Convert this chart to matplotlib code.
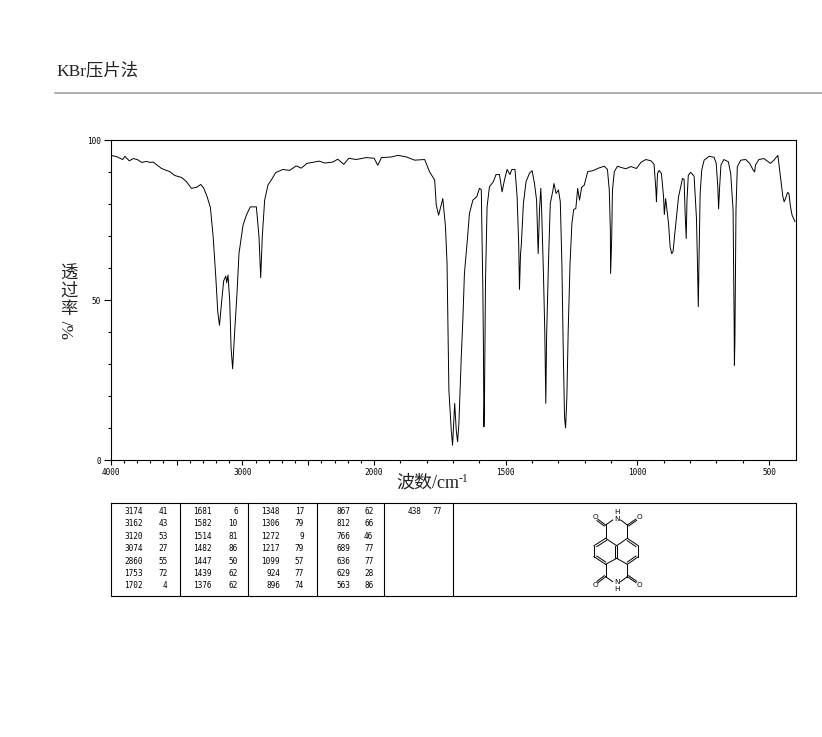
import numpy as np
import matplotlib
matplotlib.use('Agg')
import matplotlib.pyplot as plt

# espectro (numero de onda, transmitancia)
wavenumber = [4000, 3955, 3909, 3892, 3859, 3828, 3798, 3765, 3727, 3702, 3677, 3614, 3551, 3513, 3462, 3425,
              3387, 3349, 3316, 3293, 3268, 3243, 3222, 3202, 3187, 3174, 3159, 3142, 3126, 3119, 3109, 3096,
              3086, 3074, 3058, 3041, 3026, 2995, 2970, 2940, 2894, 2874, 2861, 2849, 2831, 2806, 2773, 2748,
              2692, 2642, 2591, 2553, 2510, 2414, 2377, 2313, 2276, 2230, 2192, 2137, 2061, 2000, 1986, 1972,
              1934, 1909, 1877, 1846, 1808, 1789, 1770, 1764, 1755, 1739, 1729, 1723, 1720, 1716, 1707, 1702,
              1698, 1694, 1688, 1683, 1678, 1669, 1663, 1657, 1646, 1638, 1625, 1610, 1600, 1593, 1587, 1585,
              1583, 1581, 1577, 1571, 1562, 1547, 1537, 1524, 1514, 1505, 1495, 1484, 1477, 1465, 1457, 1451,
              1448, 1444, 1441, 1433, 1423, 1410, 1400, 1391, 1383, 1380, 1377, 1372, 1367, 1364, 1357, 1352,
              1348, 1345, 1338, 1331, 1322, 1317, 1309, 1300, 1293, 1287, 1282, 1277, 1273, 1268, 1263, 1256,
              1249, 1242, 1234, 1227, 1220, 1212, 1202, 1189, 1170, 1145, 1126, 1114, 1107, 1103, 1102, 1098,
              1095, 1088, 1076, 1057, 1044, 1025, 1004, 987, 968, 949, 937, 930, 928, 924, 918, 909,
              901, 898, 893, 882, 876, 870, 865, 857, 844, 836, 829, 823, 819, 815, 812, 807,
              798, 785, 776, 773, 769, 766, 762, 756, 747, 728, 709, 701, 695, 692, 688, 683,
              672, 655, 646, 637, 633, 632, 630, 626, 621, 608, 589, 574, 562, 555, 552, 539,
              520, 495, 482, 467, 457, 448, 443, 438, 430, 425, 419, 413, 402]
transmittance = [95.2, 94.8, 93.9, 94.9, 93.5, 94.2, 93.9, 93.0, 93.3, 93.0, 93.1, 91.1, 90.1, 88.9, 88.3, 87.0,
                 84.9, 85.2, 86.1, 84.9, 82.3, 78.9, 69.8, 57.2, 46.3, 42.1, 48.9, 56.0, 57.5, 55.4, 57.8, 49.4,
                 35.0, 28.5, 40.6, 52.0, 64.5, 73.4, 76.5, 79.1, 79.1, 69.8, 57.0, 69.8, 81.2, 85.9, 88.0, 89.8,
                 90.8, 90.5, 91.9, 91.2, 92.7, 93.4, 92.8, 93.1, 94.0, 92.4, 94.3, 93.9, 94.5, 94.3, 92.1, 94.5,
                 94.7, 95.2, 94.7, 93.7, 93.9, 90.0, 87.5, 79.7, 76.5, 81.7, 72.9, 61.4, 43.7, 21.8, 9.3, 4.6,
                 11.4, 17.7, 9.3, 5.7, 11.4, 32.2, 43.7, 58.3, 68.7, 77.0, 81.2, 82.3, 84.9, 84.5, 53.0, 36.4,
                 10.4, 17.7, 56.0, 79.1, 85.4, 87.0, 89.2, 89.2, 83.8, 87.5, 90.8, 89.2, 90.8, 90.8, 82.3, 67.7,
                 53.3, 64.5, 67.2, 80.2, 87.0, 89.6, 90.4, 86.4, 81.2, 72.9, 64.5, 78.1, 84.9, 78.6, 58.3, 40.6,
                 17.7, 38.5, 61.4, 80.2, 83.8, 86.4, 83.3, 84.4, 80.7, 61.4, 35.4, 13.5, 10.0, 19.7, 40.6, 61.4,
                 73.9, 78.3, 78.6, 84.9, 81.2, 85.2, 85.9, 90.1, 90.4, 91.3, 91.8, 90.8, 84.3, 71.8, 58.3, 68.7,
                 84.3, 90.1, 91.8, 91.3, 91.0, 91.7, 91.1, 93.0, 93.9, 93.5, 92.4, 84.3, 80.7, 89.5, 90.5, 89.5,
                 82.3, 76.7, 81.7, 73.9, 66.6, 64.5, 65.1, 71.8, 82.3, 85.4, 88.0, 87.7, 77.0, 69.2, 81.2, 89.0,
                 89.9, 88.7, 75.5, 64.5, 47.9, 64.5, 83.3, 90.6, 93.7, 94.9, 94.6, 92.7, 85.4, 78.5, 85.4, 92.2,
                 93.9, 93.2, 89.5, 78.1, 43.2, 29.6, 37.5, 78.1, 91.6, 93.7, 93.9, 92.7, 90.8, 90.0, 92.2, 93.9,
                 94.2, 92.7, 93.7, 95.2, 88.5, 82.3, 80.7, 81.7, 83.6, 83.3, 79.1, 76.5, 74.5]

x_major = [4000, 3500, 3000, 2500, 2000, 1500, 1000, 500]
x_labels = {4000: '4000', 3000: '3000', 2000: '2000', 1500: '1500', 1000: '1000', 500: '500'}
y_major = [0, 50, 100]

# tabla de picos, una lista por columna
col1_wn = [3174, 3162, 3120, 3074, 2860, 1753, 1702]
col1_t = [41, 43, 53, 27, 55, 72, 4]
col2_wn = [1681, 1582, 1514, 1482, 1447, 1439, 1376]
col2_t = [6, 10, 81, 86, 50, 62, 62]
col3_wn = [1348, 1306, 1272, 1217, 1099, 924, 896]
col3_t = [17, 79, 9, 79, 57, 77, 74]
col4_wn = [867, 812, 766, 689, 636, 629, 563]
col4_t = [62, 66, 46, 77, 77, 28, 86]
col5_wn = [438]
col5_t = [77]

W, H = 822, 737
SERIF_CJK = ['Liberation Serif', 'Noto Sans CJK SC', 'DejaVu Sans']
SMALL = 5.6


# escala partida: por encima de 2000 la mitad de ancho
def forward(x):
    x = np.asarray(x, dtype=float)
    return np.where(x > 2000, 2000 + (x - 2000) / 2, x)


def inverse(y):
    y = np.asarray(y, dtype=float)
    return np.where(y > 2000, 2000 + (y - 2000) * 2, y)


fig = plt.figure(figsize=(W / 100, H / 100), dpi=100)

# capa de pagina en pixeles para titulo, tabla y molecula
page = fig.add_axes([0, 0, 1, 1])
page.set_xlim(0, W)
page.set_ylim(H, 0)
page.axis('off')

page.text(56, 71, 'KBr压片法', family=SERIF_CJK, fontsize=12.5, va='center', color='#222222')
page.plot([55, 822], [93, 93], color='#999999', lw=1.1)

# etiquetas de ejes
for ch, y_ch in zip('透过率', [274.5, 292, 310]):
    page.text(69, y_ch, ch, family=SERIF_CJK, fontsize=12.5, ha='center', va='center', color='#222222')
page.text(69, 329.5, '%/', family=SERIF_CJK, fontsize=12.5, ha='center', va='center', rotation=90, color='#222222')
page.text(396, 483, '波数/cm', family=SERIF_CJK, fontsize=13, ha='left', va='center', color='#222222')
page.text(459, 479, '-1', family=SERIF_CJK, fontsize=8.5, ha='left', va='center', color='#222222')

# tabla
page.plot([110.5, 796, 796, 110.5, 110.5], [503, 503, 595.5, 595.5, 503], color='black', lw=0.8)
for xv in [179.5, 247.5, 317, 384, 453]:
    page.plot([xv, xv], [503, 595.5], color='black', lw=0.8)

columns = [(col1_wn, col1_t, 142.7, 167.7), (col2_wn, col2_t, 211.7, 237.7), (col3_wn, col3_t, 280, 304),
           (col4_wn, col4_t, 350, 373.3), (col5_wn, col5_t, 421, 442)]
for wn_col, t_col, x_wn, x_t in columns:
    for i in range(len(wn_col)):
        y_row = 511.5 + i * 12.4
        page.text(x_wn, y_row, str(wn_col[i]), fontsize=SMALL, ha='right', va='center', family='DejaVu Sans Mono')
        page.text(x_t, y_row, str(t_col[i]), fontsize=SMALL, ha='right', va='center', family='DejaVu Sans Mono')

# molecula (coordenadas del dibujo, escala 3x)
bonds = [((107, 60), (128, 45)), ((152, 45), (172, 60)), ((107, 60), (107, 100)), ((172, 60), (172, 100)),
         ((107, 100), (140, 122)), ((172, 100), (140, 122)), ((140, 122), (140, 160)), ((136, 124), (136, 158)),
         ((107, 100), (72, 122)), ((110, 106), (80, 125)), ((72, 122), (72, 155)), ((72, 155), (107, 178)),
         ((80, 153), (107, 171)), ((107, 178), (140, 160)), ((140, 160), (172, 178)), ((172, 178), (205, 155)),
         ((172, 171), (198, 153)), ((205, 155), (205, 122)), ((205, 122), (172, 100)), ((198, 125), (172, 107)),
         ((107, 178), (107, 215)), ((172, 178), (172, 215)), ((107, 215), (128, 230)), ((172, 215), (152, 230)),
         ((107, 60), (84, 43)), ((103, 63), (81, 47)), ((172, 60), (198, 42)), ((176, 63), (200, 46)),
         ((107, 215), (84, 233)), ((103, 212), (81, 229)), ((172, 215), (198, 233)), ((176, 212), (200, 229))]
atoms = [(75, 37, 'O'), (208, 35, 'O'), (140, 42, 'N'), (140, 22, 'H'),
         (75, 240, 'O'), (208, 240, 'O'), (140, 232, 'N'), (140, 252, 'H')]
for a, b in bonds:
    page.plot([570 + a[0] / 3, 570 + b[0] / 3], [505 + a[1] / 3, 505 + b[1] / 3], color='black', lw=0.7)
for ax_, ay_, name in atoms:
    page.text(570 + ax_ / 3, 505 + ay_ / 3, name, fontsize=5.2, ha='center', va='center')

# espectro
ax = fig.add_axes([110.7 / W, 1 - 460 / H, (795.5 - 110.7) / W, 320 / H])
ax.patch.set_alpha(0)
ax.plot(wavenumber, transmittance, color='black', lw=0.7)
ax.set_xscale('function', functions=(forward, inverse))
ax.set_xlim(4000, 400)
ax.set_ylim(0, 100)
ax.set_xticks(x_major)
ax.set_xticklabels([x_labels.get(v, '') for v in x_major])
ax.set_xticks(list(range(500, 4000, 100)), minor=True)
ax.set_yticks(y_major)
ax.set_yticks(list(range(0, 101, 10)), minor=True)
ax.tick_params(axis='x', which='major', length=3.8, width=0.8, labelsize=SMALL, pad=2)
ax.tick_params(axis='y', which='major', length=5, width=0.8, labelsize=SMALL, pad=2)
ax.tick_params(axis='both', which='minor', length=2, width=0.8)
for lab in ax.get_xticklabels() + ax.get_yticklabels():
    lab.set_family('DejaVu Sans Mono')
for sp in ax.spines.values():
    sp.set_linewidth(0.8)

fig.savefig('out.png', dpi=100)
